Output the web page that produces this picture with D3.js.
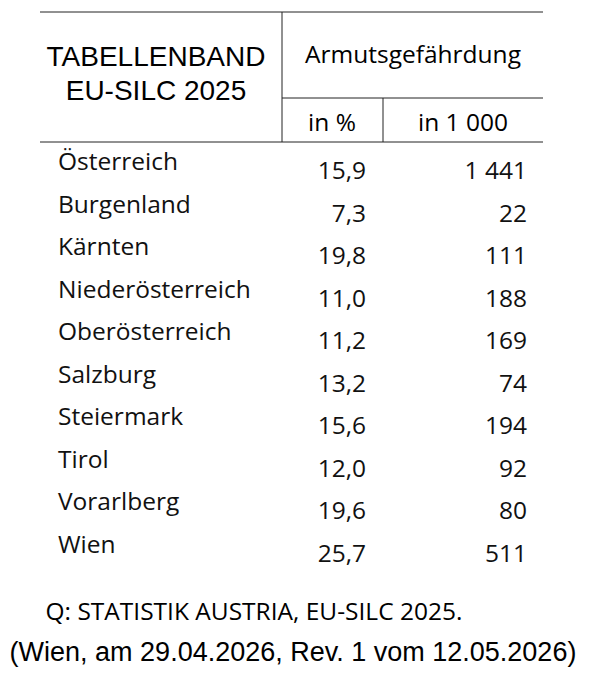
<!DOCTYPE html>
<html><head><meta charset="utf-8">
<script src="https://cdn.jsdelivr.net/npm/d3@7"></script>
<style>body{margin:0;background:#fff}</style>
</head><body><svg></svg>
<script>
const regions = ["Österreich","Burgenland","Kärnten","Niederösterreich","Oberösterreich","Salzburg","Steiermark","Tirol","Vorarlberg","Wien"];
const pct = ["15,9","7,3","19,8","11,0","11,2","13,2","15,6","12,0","19,6","25,7"];
const thousands = ["1 441","22","111","188","169","74","194","92","80","511"];

const width = 589, height = 673;
const svg = d3.select("svg").attr("width", width).attr("height", height);
const body = "'Open Sans', sans-serif";
const sans = "'Liberation Sans', Arial, sans-serif";

const y = d3.scaleBand().domain(regions).range([142, 567]);

// table lines
const lines = [[40,12,543,12],[282,12,282,142],[282,98,543,98],[383,98,383,142],[40,142,543,142]];
svg.selectAll("line").data(lines).join("line")
  .attr("x1", d => d[0]).attr("y1", d => d[1]).attr("x2", d => d[2]).attr("y2", d => d[3])
  .attr("stroke", "#222").attr("stroke-width", 1);

svg.append("text").attr("x", 156).attr("y", 66).attr("text-anchor", "middle")
  .attr("font-family", sans).attr("font-size", 28).text("TABELLENBAND");
svg.append("text").attr("x", 156).attr("y", 100).attr("text-anchor", "middle")
  .attr("font-family", sans).attr("font-size", 28).text("EU-SILC 2025");
svg.append("text").attr("x", 413).attr("y", 63).attr("text-anchor", "middle")
  .attr("font-family", body).attr("font-size", 24.5).text("Armutsgefährdung");
svg.append("text").attr("x", 332).attr("y", 131).attr("text-anchor", "middle")
  .attr("font-family", body).attr("font-size", 24.5).text("in %");
svg.append("text").attr("x", 463).attr("y", 131).attr("text-anchor", "middle")
  .attr("font-family", body).attr("font-size", 24.5).text("in 1 000");

const rows = svg.selectAll("g.row").data(regions).join("g").attr("class", "row")
  .attr("transform", d => `translate(0,${y(d)})`)
  .attr("font-family", body).attr("font-size", 24.5).attr("fill", "#111");
rows.append("text").attr("x", 58).attr("y", 28).text(d => d);
rows.append("text").attr("x", 366).attr("y", 37).attr("text-anchor", "end").text((d, i) => pct[i]);
rows.append("text").attr("x", 527).attr("y", 37).attr("text-anchor", "end").text((d, i) => thousands[i]);

svg.append("text").attr("x", 254).attr("y", 620).attr("text-anchor", "middle")
  .attr("font-family", body).attr("font-size", 24.5).text("Q: STATISTIK AUSTRIA, EU-SILC 2025.");
svg.append("text").attr("x", 293).attr("y", 661).attr("text-anchor", "middle")
  .attr("font-family", sans).attr("font-size", 27).text("(Wien, am 29.04.2026, Rev. 1 vom 12.05.2026)");
</script></body></html>
